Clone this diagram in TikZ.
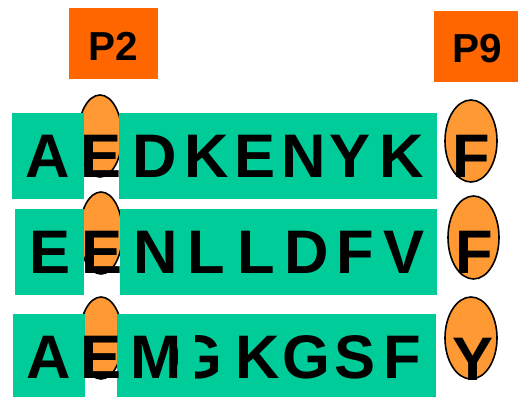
\documentclass[tikz,border=0pt]{standalone}
\usepackage{fontspec}
\setmainfont{Liberation Sans}
\definecolor{seqgreen}{RGB}{0,204,153}
\definecolor{pocket}{RGB}{255,153,51}
\definecolor{ptag}{RGB}{255,102,0}
\begin{document}
\begin{tikzpicture}[x=1pt,y=-1pt,
  gbox/.style={fill=seqgreen,draw=none},
  pbox/.style={fill=ptag,draw=none},
  pell/.style={fill=pocket,draw=black,line width=1.6pt},
  aa/.style={anchor=base,inner sep=0pt,font=\fontsize{61.5}{61.5}\selectfont\bfseries},
  ptxt/.style={inner sep=0pt,font=\fontsize{40.5}{40.5}\selectfont\bfseries}]
\useasboundingbox (0,0) rectangle (518,397);
% tags
\fill[pbox] (69,8) rectangle (158,79);
\node[ptxt] (p2) at (113.5,46) {P2};
\fill[pbox] (434,11) rectangle (518,82);
\node[ptxt] (p9) at (477,48.5) {P9};
% pocket ellipses
\draw[pell] (100,136) ellipse [x radius=22,y radius=41];
\draw[pell] (101,233) ellipse [x radius=21.5,y radius=41];
\draw[pell] (101,338) ellipse [x radius=21.5,y radius=41];
\draw[pell] (471,141) ellipse [x radius=26,y radius=41];
\draw[pell] (473.5,237.5) ellipse [x radius=25.5,y radius=41.5];
\draw[pell] (471,338) ellipse [x radius=26,y radius=41];
% green boxes
\fill[gbox] (12,113) rectangle (84,199);
\fill[gbox] (119,113) rectangle (437,199);
\fill[gbox] (15,209) rectangle (84,295);
\fill[gbox] (120,209) rectangle (437,295);
\fill[gbox] (13,314) rectangle (85,397);
\fill[gbox] (117,314) rectangle (436,397);
% P2 letters
\node[aa] (r1p2) at (101.5,177) {E};
\node[aa] (r2p2) at (102.5,273) {E};
\node[aa] (r3p2) at (101.5,378) {E};
% row 1
\node[aa] (r1a) at (47.5,177) {A};
\node[aa] (r1b) at (155,177) {D};
\node[aa] (r1c) at (207,177) {K};
\node[aa] (r1d) at (255,177) {E};
\node[aa] (r1e) at (304,177) {N};
\node[aa] (r1f) at (350,177) {Y};
\node[aa] (r1g) at (402,177) {K};
\node[aa] (r1p9) at (471,177) {F};
% row 2
\node[aa] (r2a) at (50,273) {E};
\node[aa] (r2b) at (156,273) {N};
\node[aa] (r2c) at (206,273) {L};
\node[aa] (r2d) at (256,273) {L};
\node[aa] (r2e) at (307,273) {D};
\node[aa] (r2f) at (355.5,273) {F};
\node[aa] (r2g) at (404,273) {V};
\node[aa] (r2p9) at (474,273) {F};
% row 3
\node[aa] (r3a) at (49,378) {A};
\node[aa] (r3b) at (156.5,378) {M};
\node[aa] (r3c) at (198.5,378) {G};
\fill[gbox] (178,328) rectangle (195,383);
\node[aa] (r3d) at (258,378) {K};
\node[aa] (r3e) at (306,378) {G};
\node[aa] (r3f) at (355,378) {S};
\node[aa] (r3g) at (402,378) {F};
\node[aa] (r3p9) at (473,380) {Y};
\end{tikzpicture}
\end{document}
